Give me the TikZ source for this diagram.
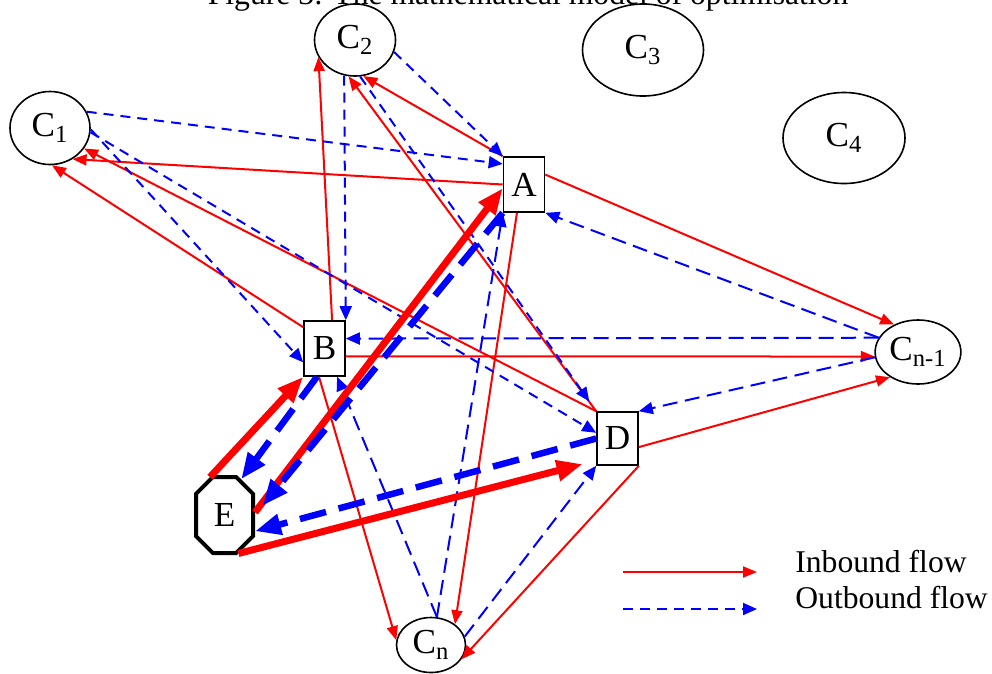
\documentclass[tikz,border=0pt]{standalone}
\usepackage{fontspec}
\setmainfont{Liberation Serif}
\usetikzlibrary{arrows.meta,shapes.geometric,shapes.misc}
\begin{document}
\begin{tikzpicture}
  [x=0.2mm,y=-0.2mm,every node/.style={font=\fontsize{20}{22}\selectfont},
   cust/.style={ellipse,draw,line width=0.32mm,inner sep=1pt},
   depot/.style={rectangle,draw,line width=0.32mm,minimum width=8.2mm,minimum height=11mm,inner sep=0pt},
   hub/.style={chamfered rectangle,chamfered rectangle xsep=2.8mm,draw,line width=0.8mm,
     minimum width=11.4mm,minimum height=15.2mm,inner sep=0pt},
   inflow/.style={red,line width=0.4mm,-{Triangle[length=2.8mm,width=2.2mm]}},
   outflow/.style={blue,line width=0.4mm,dash pattern=on 2mm off 1.4mm,-{Triangle[length=2.8mm,width=2.4mm]}},
   outlong/.style={outflow,dash pattern=on 3mm off 1.5mm},
   bigin/.style={red,line width=1.4mm,-{Triangle[length=5.2mm,width=4mm]}},
   bigout/.style={blue,line width=1.3mm,dash pattern=on 5.4mm off 2.6mm,-{Triangle[length=5.2mm,width=4mm]}},
   legend/.style={anchor=base west,inner sep=0pt,font=\fontsize{18}{20}\selectfont}]
  \useasboundingbox (0,0) rectangle (992,673);
  % title, cut at the top edge
  \node (title)[anchor=base,font=\fontsize{18}{20}\selectfont] at (528,4) {Figure 3: The mathematical model of optimisation};
  % customers
  \node (C1)[cust,minimum width=16mm,minimum height=14.6mm] at (50,128) {C\textsubscript{1}};
  \node (C2)[cust,minimum width=16.2mm,minimum height=14.4mm] at (355,40) {C\textsubscript{2}};
  \node (C3)[cust,minimum width=24.2mm,minimum height=18.4mm] at (643,50) {C\textsubscript{3}};
  \node (C4)[cust,minimum width=24.4mm,minimum height=18.2mm] at (844,138) {C\textsubscript{4}};
  \node (Cn1)[cust,minimum width=16.2mm,minimum height=12.8mm] at (918,352) {C\textsubscript{n-1}};
  \node (Cn)[cust,minimum width=13.8mm,minimum height=11mm] at (431,645) {C\textsubscript{n}};
  % depots and hub
  \node (A)[depot] at (524,184.5) {A};
  \node (B)[depot] at (324.5,348.5) {B};
  \node (D)[depot,minimum height=10.6mm] at (617.5,438.5) {D};
  \node (E)[hub] at (224.5,515) {E};
  % inbound
  \foreach \from/\to in {A.west/C1.-54,B.135/C1.-87,D.north west/C1.-31,
                         B.75/C2.-155,A.north west/C2.-77,D.north west/C2.-100,
                         A.25/Cn1.131,B.-20/Cn1.-174,D.-22/Cn1.-138,
                         A.-104/Cn.41,B.-101/Cn.172,D.south east/Cn.-25}
    \draw[inflow] (\from) -- (\to);
  % outbound
  \foreach \from/\to in {C1.24/A.136,C1.-2/B.213,C1.-6/D.165,
                         C2.-17/A.north west,C2.-107/B.north east}
    \draw[outflow] (\from) -- (\to);
  \draw[outflow,shorten >=2.4mm] (C2.-82) -- (D.north west);
  \foreach \from/\to in {Cn1.160/A.south east,Cn1.160/B.25,Cn1.-173/D.north east,
                         Cn.78/A.south west,Cn.78/B.-66,Cn.14/D.south west}
    \draw[outlong] (\from) -- (\to);
  % hub flows
  \draw[bigin] (E.111) -- (B.south west);
  \draw[bigin] (E.5) -- (A.190);
  \draw[bigin,shorten >=2.8mm] (E.-70) -- (D.226);
  \draw[bigout] (B.-105) -- (E.65);
  \draw[bigout,shorten >=2.4mm] (A.south west) -- (E.east);
  \draw[bigout] (D.west) -- (E.-28);
  % legend
  \coordinate (inS) at (623,572);
  \coordinate (inE) at (757,572);
  \coordinate (outS) at (623,609);
  \coordinate (outE) at (757,609);
  \draw[inflow] (inS) -- (inE);
  \draw[outflow] (outS) -- (outE);
  \node (inlab)[legend] at (795,572) {Inbound flow};
  \node (outlab)[legend] at (795,608) {Outbound flow};
\end{tikzpicture}
\end{document}
